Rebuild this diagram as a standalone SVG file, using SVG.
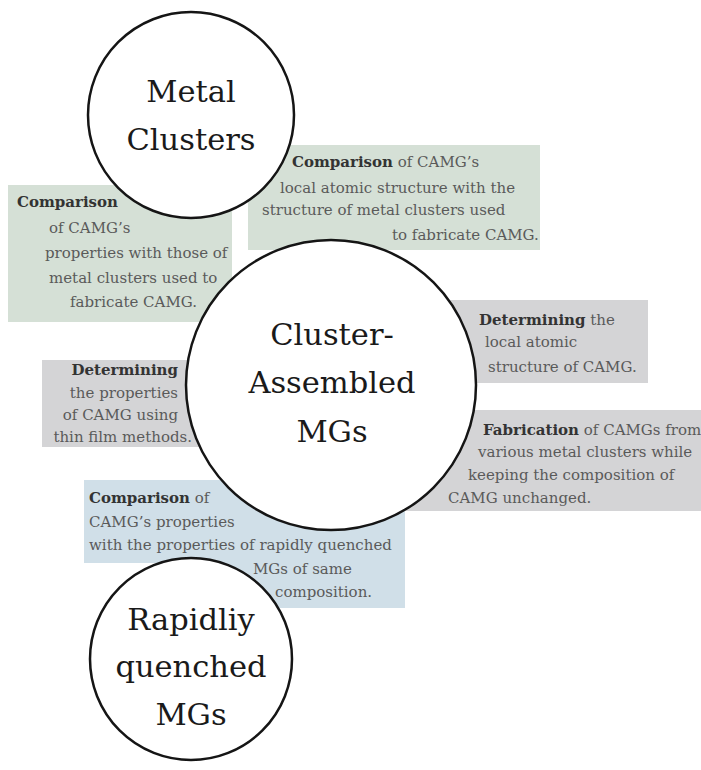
<svg xmlns="http://www.w3.org/2000/svg" width="701" height="770" viewBox="0 0 701 770">
<style>
.bg{fill:#ffffff}
.green{fill:#d5e0d6}
.gray{fill:#d4d4d6}
.blue{fill:#d0dfe8}
.t{font-family:"DejaVu Serif","Liberation Serif",serif;font-size:15px;fill:#5a5a5a}
.b{font-weight:bold;fill:#333333}
.circ{fill:#ffffff;stroke:#151515;stroke-width:2.5}
.big{font-family:"DejaVu Serif","Liberation Serif",serif;font-size:30.5px;fill:#1a1a1a;text-anchor:middle}
</style>
<rect class="bg" x="0" y="0" width="701" height="770"/>
<g id="box-props-clusters">
<rect class="green" x="8" y="185" width="224" height="137"/>
<text class="t" x="17" y="207"><tspan class="b">Comparison</tspan></text>
<text class="t" x="49" y="233">of CAMG’s</text>
<text class="t" x="45" y="258">properties with those of</text>
<text class="t" x="49" y="283">metal clusters used to</text>
<text class="t" x="70" y="307">fabricate CAMG.</text>
</g>
<g id="box-structure-clusters">
<rect class="green" x="248" y="145" width="292" height="105"/>
<text class="t" x="292" y="167"><tspan class="b">Comparison</tspan> of CAMG’s</text>
<text class="t" x="280" y="193">local atomic structure with the</text>
<text class="t" x="262" y="215">structure of metal clusters used</text>
<text class="t" x="392" y="240">to fabricate CAMG.</text>
</g>
<g id="box-thin-film">
<rect class="gray" x="42" y="360" width="158" height="87"/>
<text class="t" x="178" y="375" text-anchor="end"><tspan class="b">Determining</tspan></text>
<text class="t" x="178" y="398" text-anchor="end">the properties</text>
<text class="t" x="178" y="420" text-anchor="end">of CAMG using</text>
<text class="t" x="192" y="442" text-anchor="end">thin film methods.</text>
</g>
<g id="box-local-structure">
<rect class="gray" x="440" y="300" width="208" height="83"/>
<text class="t" x="479" y="325"><tspan class="b">Determining</tspan> the</text>
<text class="t" x="485" y="347">local atomic</text>
<text class="t" x="488" y="372">structure of CAMG.</text>
</g>
<g id="box-fabrication">
<rect class="gray" x="400" y="410" width="301" height="101"/>
<text class="t" x="483" y="435"><tspan class="b">Fabrication</tspan> of CAMGs from</text>
<text class="t" x="478" y="457">various metal clusters while</text>
<text class="t" x="468" y="480">keeping the composition of</text>
<text class="t" x="448" y="503">CAMG unchanged.</text>
</g>
<g id="box-rapidly">
<path class="blue" d="M84,480 H405 V608 H200 V563 H84 Z"/>
<text class="t" x="89" y="503"><tspan class="b">Comparison</tspan> of</text>
<text class="t" x="89" y="527">CAMG’s properties</text>
<text class="t" x="89" y="550">with the properties of rapidly quenched</text>
<text class="t" x="253" y="574">MGs of same</text>
<text class="t" x="275" y="597">composition.</text>
</g>
<g id="connectors"></g>
<g id="node-metal-clusters">
<circle class="circ" cx="191" cy="115" r="103"/>
<text class="big" x="191" y="102">Metal</text>
<text class="big" x="191" y="150">Clusters</text>
</g>
<g id="node-cluster-assembled">
<circle class="circ" cx="331" cy="385" r="145"/>
<text class="big" x="332" y="345">Cluster-</text>
<text class="big" x="332" y="393">Assembled</text>
<text class="big" x="332" y="442">MGs</text>
</g>
<g id="node-rapidly-quenched">
<circle class="circ" cx="191" cy="659" r="101"/>
<text class="big" x="191" y="630">Rapidliy</text>
<text class="big" x="191" y="677">quenched</text>
<text class="big" x="191" y="725">MGs</text>
</g>
</svg>
